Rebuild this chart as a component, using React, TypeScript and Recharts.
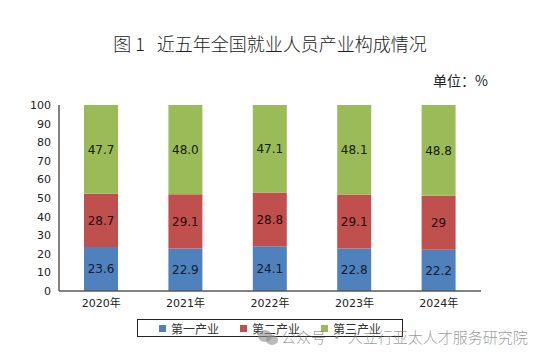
import { BarChart, Bar, XAxis, YAxis, LabelList, Legend } from "recharts";

const years = ["2020年", "2021年", "2022年", "2023年", "2024年"];
const primary = [23.6, 22.9, 24.1, 22.8, 22.2];
const secondary = [28.7, 29.1, 28.8, 29.1, 29];
const tertiary = [47.7, 48.0, 47.1, 48.1, 48.8];
const primaryLabels = ["23.6", "22.9", "24.1", "22.8", "22.2"];
const secondaryLabels = ["28.7", "29.1", "28.8", "29.1", "29"];
const tertiaryLabels = ["47.7", "48.0", "47.1", "48.1", "48.8"];
const yTicks = [0, 10, 20, 30, 40, 50, 60, 70, 80, 90, 100];

const series = [
  { key: "p", name: "第一产业", color: "#4F81BD", text: "#0f1c33" },
  { key: "s", name: "第二产业", color: "#C0504D", text: "#2a0808" },
  { key: "t", name: "第三产业", color: "#9BBB59", text: "#14200a" },
];

const data = years.map((year, i) => ({
  year,
  p: primary[i],
  s: secondary[i],
  t: tertiary[i],
  pl: primaryLabels[i],
  sl: secondaryLabels[i],
  tl: tertiaryLabels[i],
}));

const sans = "'DejaVu Sans', 'Noto Sans CJK SC', sans-serif";
const cjk = "'Noto Sans CJK SC', serif";

function LegendBox() {
  return (
    <div
      style={{
        width: 266,
        height: 18,
        border: "1.5px solid #222",
        display: "flex",
        alignItems: "center",
        paddingLeft: 21,
        boxSizing: "border-box",
        fontFamily: cjk,
        fontSize: 12,
        color: "#333",
      }}
    >
      {series.map((s) => (
        <div key={s.key} style={{ display: "flex", alignItems: "center", width: 84 }}>
          <span style={{ width: 7, height: 7, background: s.color, marginRight: 5 }} />
          <span>{s.name}</span>
        </div>
      ))}
    </div>
  );
}

export default function App() {
  return (
    <div style={{ position: "absolute", left: 0, top: 0, width: 540, height: 358, background: "#fff" }}>
      <div
        style={{
          position: "absolute",
          top: 30,
          left: 0,
          width: 540,
          textAlign: "center",
          fontFamily: cjk,
          fontSize: 18,
          fontWeight: 300,
          color: "#222",
          whiteSpace: "pre",
        }}
      >
        {"图 1   近五年全国就业人员产业构成情况"}
      </div>
      <div style={{ position: "absolute", top: 70, left: 433, fontFamily: cjk, fontSize: 14, color: "#222" }}>
        单位：%
      </div>
      <BarChart
        width={540}
        height={358}
        data={data}
        margin={{ top: 105, right: 59, left: 0, bottom: 37 }}
      >
        <XAxis
          dataKey="year"
          height={30}
          tickLine={false}
          axisLine={{ stroke: "#595959", strokeWidth: 1.5 }}
          tick={{ fontSize: 11, fill: "#222", fontFamily: sans }}
        />
        <YAxis
          width={59}
          domain={[0, 100]}
          ticks={yTicks}
          interval={0}
          tickLine={false}
          axisLine={{ stroke: "#595959", strokeWidth: 1.5 }}
          tick={{ fontSize: 11, fill: "#222", fontFamily: sans }}
        />
        <Legend
          layout="horizontal"
          verticalAlign="middle"
          align="center"
          wrapperStyle={{ top: 319, left: 137, width: 268 }}
          content={() => <LegendBox />}
        />
        {series.map((s) => (
          <Bar
            key={s.key}
            dataKey={s.key}
            name={s.name}
            stackId="a"
            fill={s.color}
            barSize={34}
            isAnimationActive={false}
          >
            <LabelList
              dataKey={s.key + "l"}
              position="center"
              fill={s.text}
              fontSize={12}
              fontFamily={sans}
            />
          </Bar>
        ))}
      </BarChart>
      <div
        style={{
          position: "absolute",
          top: 330,
          left: 258,
          width: 14,
          height: 12,
          borderRadius: "50%",
          background: "rgba(140,140,140,0.6)",
        }}
      />
      <div
        style={{
          position: "absolute",
          top: 335,
          left: 266,
          width: 12,
          height: 10,
          borderRadius: "50%",
          background: "rgba(140,140,140,0.6)",
        }}
      />
      <div
        style={{
          position: "absolute",
          top: 326,
          left: 281,
          fontFamily: "'Noto Sans CJK SC', sans-serif",
          fontSize: 15,
          fontWeight: 300,
          color: "rgba(120,120,120,0.75)",
          whiteSpace: "pre",
        }}
      >
        {"公众号 · 人立行亚太人才服务研究院"}
      </div>
    </div>
  );
}
